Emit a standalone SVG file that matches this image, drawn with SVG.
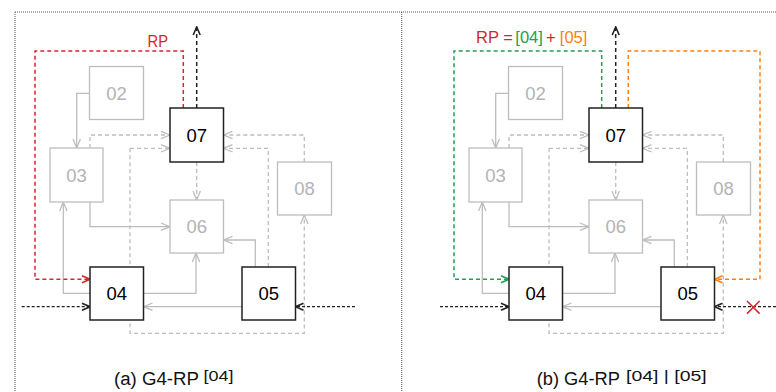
<svg xmlns="http://www.w3.org/2000/svg" width="776" height="392" viewBox="0 0 776 392">
<style>
text{font-family:"Liberation Sans",Arial,Helvetica,sans-serif}
.frame{fill:none;stroke:#555;stroke-width:1;stroke-dasharray:1 1}
.gn rect{fill:#fff;stroke:#bdbdbd;stroke-width:1.3}
.gn text{fill:#b3b3b3;font-size:18.5px;text-anchor:middle}
.bn rect{fill:#fff;stroke:#222;stroke-width:1.5}
.bn text{fill:#000;font-size:18.5px;text-anchor:middle}
.gs{fill:none;stroke:#bdbdbd;stroke-width:1.3;marker-end:url(#ag)}
.gd{fill:none;stroke:#bdbdbd;stroke-width:1.3;stroke-dasharray:4 3;marker-end:url(#ag)}
.kd{fill:none;stroke:#222;stroke-width:1.5;stroke-dasharray:4 3;marker-end:url(#ak)}
.ki{fill:none;stroke:#222;stroke-width:1.3;stroke-dasharray:3 2;marker-end:url(#ak)}
.rd{fill:none;stroke:#d7262b;stroke-width:1.5;stroke-dasharray:4 3;marker-end:url(#ar)}
.gr{fill:none;stroke:#21a050;stroke-width:1.5;stroke-dasharray:4 3;marker-end:url(#agr)}
.or{fill:none;stroke:#ff8010;stroke-width:1.5;stroke-dasharray:4 3;marker-end:url(#aor)}
.cap{font-size:18px;fill:#111}
.sup{font-size:15px;fill:#111}
.lb{font-size:16.5px}
</style>
<defs>
<marker id="ag" viewBox="0 0 12 12" markerWidth="12" markerHeight="12" refX="11" refY="6" orient="auto-start-reverse" markerUnits="userSpaceOnUse"><path d="M2,2.3 L11,6 L2,9.7" fill="none" stroke="#bdbdbd" stroke-width="1.3"/></marker>
<marker id="ak" viewBox="0 0 12 12" markerWidth="12" markerHeight="12" refX="11" refY="6" orient="auto-start-reverse" markerUnits="userSpaceOnUse"><path d="M3,2.5 L11,6 L3,9.5" fill="none" stroke="#222" stroke-width="1.6"/></marker>
<marker id="ar" viewBox="0 0 12 12" markerWidth="12" markerHeight="12" refX="11" refY="6" orient="auto" markerUnits="userSpaceOnUse"><path d="M3,2.5 L11,6 L3,9.5" fill="none" stroke="#d7262b" stroke-width="1.6"/></marker>
<marker id="agr" viewBox="0 0 12 12" markerWidth="12" markerHeight="12" refX="11" refY="6" orient="auto" markerUnits="userSpaceOnUse"><path d="M3,2.5 L11,6 L3,9.5" fill="none" stroke="#21a050" stroke-width="1.6"/></marker>
<marker id="aor" viewBox="0 0 12 12" markerWidth="12" markerHeight="12" refX="11" refY="6" orient="auto" markerUnits="userSpaceOnUse"><path d="M3,2.5 L11,6 L3,9.5" fill="none" stroke="#ff8010" stroke-width="1.6"/></marker>
</defs>

<g id="frames">
<path class="frame" d="M15,12 H776 M15,12 V392 M401.7,12 V392"/>
</g>

<!-- Panel (a) -->
<g id="panel-a">
<g id="a-connectors">
<path class="gs" d="M89.5,93.3 H76.7 V148"/>
<path class="gd" d="M90,148 V135 H170"/>
<path class="gd" d="M130,148.3 H170"/>
<path class="gd" d="M130,148.3 V333.3 H304.3 V215"/>
<path class="gd" d="M304.3,162 V135 H223.5"/>
<path class="gd" d="M268.3,267 V148.3 H223.5"/>
<path class="gd" d="M196.7,162 V200"/>
<path class="gs" d="M90,202 V226.7 H170"/>
<path class="gs" d="M90,293.3 H63.3 V202"/>
<path class="gs" d="M143.5,293.3 H196 V253"/>
<path class="gs" d="M255.3,267 V240 H223.5"/>
<path class="gs" d="M242,306.7 H143.5"/>
<path class="ki" d="M21.7,306.7 H90"/>
<path class="ki" d="M355,306.7 H295.5"/>
<path class="kd" d="M196.7,108 V27"/>
<path class="rd" d="M183.3,108 V51 H35 V279.3 H90"/>
</g>
<g id="a-02" class="gn"><rect x="89.5" y="66.5" width="54" height="53"/><text x="116.5" y="99.5">02</text></g>
<g id="a-07" class="bn"><rect x="170" y="108" width="53.5" height="54"/><text x="196.8" y="141.5">07</text></g>
<g id="a-03" class="gn"><rect x="50" y="148" width="53" height="54"/><text x="76.5" y="181.5">03</text></g>
<g id="a-06" class="gn"><rect x="170" y="200" width="53.5" height="53"/><text x="196.8" y="233">06</text></g>
<g id="a-08" class="gn"><rect x="277.5" y="162" width="54" height="53"/><text x="304.5" y="195">08</text></g>
<g id="a-04" class="bn"><rect x="90" y="267" width="53.5" height="53"/><text x="116.8" y="300">04</text></g>
<g id="a-05" class="bn"><rect x="242" y="267" width="53.5" height="53"/><text x="268.8" y="300">05</text></g>
<text x="147.5" y="46.5" font-size="16" fill="#d7262b" textLength="20.5" lengthAdjust="spacingAndGlyphs">RP</text>
<text class="cap" x="114" y="384.5" textLength="85" lengthAdjust="spacingAndGlyphs">(a) G4-RP</text>
<text class="sup" x="203.5" y="380.5" textLength="30" lengthAdjust="spacingAndGlyphs">[04]</text>
</g>

<!-- Panel (b) -->
<g id="panel-b">
<g id="b-connectors">
<path class="gs" d="M508.5,93.3 H495.7 V148"/>
<path class="gd" d="M509,148 V135 H589"/>
<path class="gd" d="M549,148.3 H589"/>
<path class="gd" d="M549,148.3 V333.3 H723.3 V215"/>
<path class="gd" d="M723.3,162 V135 H642.5"/>
<path class="gd" d="M687.3,267 V148.3 H642.5"/>
<path class="gd" d="M615.7,162 V200"/>
<path class="gs" d="M509,202 V226.7 H589"/>
<path class="gs" d="M509,293.3 H482.3 V202"/>
<path class="gs" d="M562.5,293.3 H615 V253"/>
<path class="gs" d="M674.3,267 V240 H642.5"/>
<path class="gs" d="M661,306.7 H562.5"/>
<path class="ki" d="M440,306.7 H509"/>
<path class="ki" d="M776,306.7 H714.5"/>
<path class="kd" d="M615.7,108 V27"/>
<path class="gr" d="M601.7,108 V51 H454 V279.3 H509"/>
<path class="or" d="M628.3,108 V51 H760 V279.3 H714.5"/>
<path d="M747,301 L759.6,313.6 M759.6,301 L747,313.6" stroke="#d7262b" stroke-width="1.5" fill="none"/>
</g>
<g id="b-02" class="gn"><rect x="508.5" y="66.5" width="54" height="53"/><text x="535.5" y="99.5">02</text></g>
<g id="b-07" class="bn"><rect x="589" y="108" width="53.5" height="54"/><text x="615.8" y="141.5">07</text></g>
<g id="b-03" class="gn"><rect x="469" y="148" width="53" height="54"/><text x="495.5" y="181.5">03</text></g>
<g id="b-06" class="gn"><rect x="589" y="200" width="53.5" height="53"/><text x="615.8" y="233">06</text></g>
<g id="b-08" class="gn"><rect x="696.5" y="162" width="54" height="53"/><text x="723.5" y="195">08</text></g>
<g id="b-04" class="bn"><rect x="509" y="267" width="53.5" height="53"/><text x="535.8" y="300">04</text></g>
<g id="b-05" class="bn"><rect x="661" y="267" width="53.5" height="53"/><text x="687.8" y="300">05</text></g>
<text class="lb" x="476" y="42.7" fill="#d7262b">RP =</text>
<text class="lb" x="515.3" y="42.7" fill="#21a050">[04]</text>
<text class="lb" x="546" y="42.7" fill="#d7262b">+</text>
<text class="lb" x="559.8" y="42.7" fill="#ff8010">[05]</text>
<text class="cap" x="536.7" y="384.5" textLength="83.3" lengthAdjust="spacingAndGlyphs">(b) G4-RP</text>
<text class="sup" x="626" y="380.5" textLength="80.7" lengthAdjust="spacingAndGlyphs">[04] | [05]</text>
</g>
</svg>
